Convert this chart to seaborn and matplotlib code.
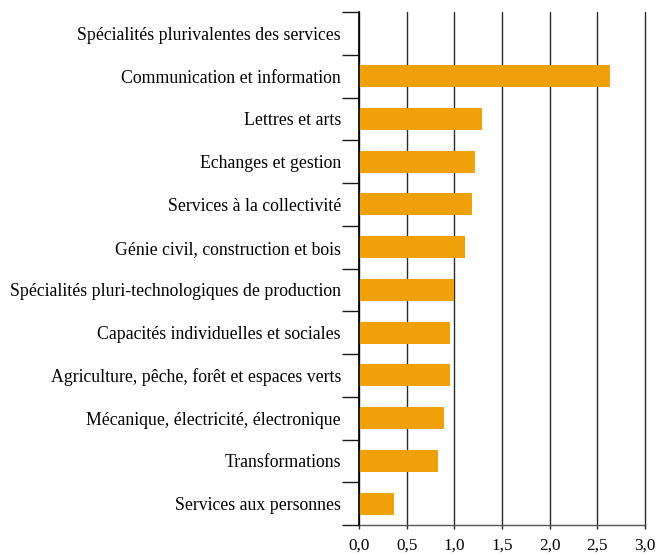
import matplotlib
matplotlib.use("Agg")
import matplotlib.pyplot as plt
import seaborn as sns
import pandas as pd
import numpy as np
from matplotlib.ticker import FuncFormatter, FixedLocator

categories = [
    "Spécialités plurivalentes des services",
    "Communication et information",
    "Lettres et arts",
    "Echanges et gestion",
    "Services à la collectivité",
    "Génie civil, construction et bois",
    "Spécialités pluri-technologiques de production",
    "Capacités individuelles et sociales",
    "Agriculture, pêche, forêt et espaces verts",
    "Mécanique, électricité, électronique",
    "Transformations",
    "Services aux personnes",
]
values = [0.0, 2.63, 1.29, 1.22, 1.19, 1.11, 1.00, 0.955, 0.955, 0.89, 0.83, 0.37]
x_ticks = [0.0, 0.5, 1.0, 1.5, 2.0, 2.5, 3.0]

sns.set_theme(style="white")
plt.rcParams["font.family"] = ["Liberation Serif", "DejaVu Serif"]

df = pd.DataFrame({"cat": categories, "val": values})

fig = plt.figure(figsize=(6.59, 5.55), dpi=100)
ax = fig.add_axes([359/659, 1 - 525/555, (645 - 359)/659, (525 - 12)/555])

ax.set_xlim(0, 3.0)
ax.set_ylim(len(categories) - 0.5, -0.5)
for t in x_ticks:
    ax.axvline(t, color="#2a2a2a", lw=1.0, zorder=0, clip_on=False)

sns.barplot(data=df, x="val", y="cat", orient="h", color="#F0A10A",
            saturation=1, width=0.51, linewidth=0, ax=ax, zorder=2)
ax.set_ylim(len(categories) - 0.5, -0.5)
ax.set_xlim(0, 3.0)

ax.set_xlabel("")
ax.set_ylabel("")
ax.set_xticks(x_ticks)
ax.xaxis.set_major_formatter(FuncFormatter(lambda v, p: f"{v:.1f}".replace(".", ",")))
ax.tick_params(axis="x", which="major", length=3, width=1, color="#2a2a2a",
               labelsize=12.3, pad=6, bottom=True, labelcolor="black")
ax.yaxis.set_minor_locator(FixedLocator(np.arange(-0.5, len(categories), 1.0)))
ax.tick_params(axis="y", which="major", length=0, pad=13, labelsize=12.8, labelcolor="black")
ax.tick_params(axis="y", which="minor", length=12, width=1, color="#1a1a1a", left=True)

for s in ["top", "right"]:
    ax.spines[s].set_visible(False)
ax.spines["left"].set_color("black")
ax.spines["left"].set_linewidth(1.2)
ax.spines["bottom"].set_color("#555555")
ax.spines["bottom"].set_linewidth(1.0)
ax.spines["left"].set_zorder(5)

fig.savefig("out.png", dpi=100)
